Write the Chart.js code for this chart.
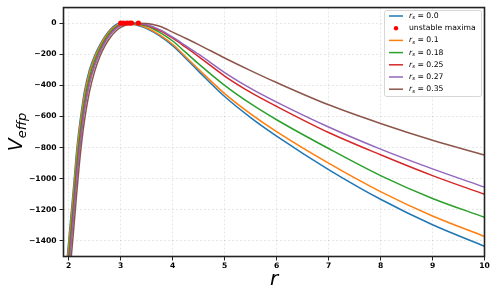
<!DOCTYPE html>
<html>
<head>
<meta charset="utf-8">
<script src="https://cdn.jsdelivr.net/npm/chart.js@4.4.1/dist/chart.umd.min.js"></script>
<style>
  html, body { margin: 0; padding: 0; background: #ffffff; }
  #wrap { width: 496px; height: 293px; }
</style>
</head>
<body>
<div id="wrap"><canvas id="chartCanvas" width="496" height="293"></canvas></div>
<script>
// r values shared by every curve
const rGrid = [1.95, 2.0, 2.05, 2.1, 2.15, 2.2, 2.25, 2.3, 2.4, 2.5,
               2.6, 2.7, 2.8, 2.9, 3.0, 3.1, 3.2, 3.35, 3.5, 3.75,
               4.0, 4.25, 4.5, 5.0, 5.5, 6, 7, 8, 9, 10];

// V_effp, one list per r_s
const vRs000 = [-1590, -1400, -1215, -1030, -830, -680, -555, -445, -300, -208,
                -140, -84, -41, -12, 0, -1.5, -6, -17, -35, -82,
                -145, -226, -310, -472, -607, -726, -941, -1132, -1296, -1434];
const vRs010 = [-1627, -1436, -1249, -1064, -864, -709, -580, -468, -317, -220,
                -149, -91, -47, -19, -3, -0.4, -3.5, -13, -30, -76,
                -136, -216, -297, -453, -583, -697, -900, -1083, -1240, -1371];
const vRs018 = [-1689, -1496, -1306, -1120, -920, -758, -622, -506, -345, -241,
                -164, -103, -57, -28, -9, -0.3, -1, -7, -19, -60,
                -115, -188, -262, -400, -518, -621, -806, -980, -1127, -1248];
const vRs025 = [-1764, -1568, -1375, -1187, -987, -817, -673, -551, -378, -265,
                -182, -118, -69, -35, -13, -2, -0.1, -4, -14, -48,
                -97, -155, -215, -340, -445, -535, -703, -846, -980, -1100];
const vRs027 = [-1792, -1595, -1400, -1212, -1012, -839, -692, -569, -391, -274,
                -189, -124, -74, -39, -16, -4, -0.1, -2.5, -11, -42,
                -90, -145, -200, -318, -420, -508, -668, -810, -937, -1054];
const vRs035 = [-1900, -1700, -1500, -1310, -1110, -925, -765, -635, -440, -310,
                -215, -145, -92, -54, -28, -12, -2.5, -0.05, -3, -20,
                -58, -97, -138, -224, -305, -382, -525, -645, -753, -848];

const rsLabels = ['0.0', '0.1', '0.18', '0.25', '0.27', '0.35'];
const rsColors = ['#1f77b4', '#ff7f0e', '#2ca02c', '#d62728', '#9467bd', '#8c564b'];

// unstable maxima (red dots)
const maximaR = [3.0, 3.05, 3.12, 3.17, 3.21, 3.34];
const maximaV = [0, 0, 0, 0, 0, 0];

const xTicks = [2, 3, 4, 5, 6, 7, 8, 9, 10];
const yTicks = [0, -200, -400, -600, -800, -1000, -1200, -1400];

const FONT = "'DejaVu Sans', sans-serif";

function toPoints(xs, ys) {
  return xs.map((x, i) => ({ x: x, y: ys[i] }));
}

function lineSet(idx, values) {
  return {
    label: 'r_s = ' + rsLabels[idx],
    rsText: rsLabels[idx],
    data: toPoints(rGrid, values),
    borderColor: rsColors[idx],
    backgroundColor: rsColors[idx],
    borderWidth: 1.5,
    pointRadius: 0,
    fill: false,
    cubicInterpolationMode: 'monotone',
    order: 6 - idx
  };
}

const datasets = [
  lineSet(0, vRs000),
  {
    label: 'unstable maxima',
    isMaxima: true,
    type: 'scatter',
    data: toPoints(maximaR, maximaV),
    showLine: false,
    pointRadius: 2.6,
    pointBackgroundColor: '#ff0000',
    pointBorderWidth: 0,
    backgroundColor: '#ff0000',
    borderColor: '#ff0000',
    order: 0
  },
  lineSet(1, vRs010),
  lineSet(2, vRs018),
  lineSet(3, vRs025),
  lineSet(4, vRs027),
  lineSet(5, vRs035)
];

// frame, axis titles and a matplotlib-like legend
const decorPlugin = {
  id: 'decor',
  afterDraw(chart) {
    const ctx = chart.ctx;
    const a = chart.chartArea;
    ctx.save();

    // axes frame
    ctx.strokeStyle = '#222222';
    ctx.lineWidth = 1.6;
    ctx.strokeRect(a.left, a.top, a.right - a.left, a.bottom - a.top);

    // x title
    ctx.fillStyle = '#000000';
    ctx.font = 'italic 20px ' + FONT;
    ctx.textAlign = 'center';
    ctx.textBaseline = 'alphabetic';
    ctx.fillText('r', (a.left + a.right) / 2, 285);

    // y title V_effp
    ctx.save();
    ctx.translate(22, (a.top + a.bottom) / 2);
    ctx.rotate(-Math.PI / 2);
    ctx.textAlign = 'left';
    ctx.font = 'italic 19px ' + FONT;
    const wV = ctx.measureText('V').width;
    ctx.font = 'italic 13px ' + FONT;
    const wSub = ctx.measureText('effp').width;
    const x0 = -(wV + wSub) / 2;
    ctx.font = 'italic 19px ' + FONT;
    ctx.fillText('V', x0, 0);
    ctx.font = 'italic 13px ' + FONT;
    ctx.fillText('effp', x0 + wV, 4);
    ctx.restore();

    // legend
    const bx = 384.5, by = 10.5, bw = 97, bh = 86;
    ctx.beginPath();
    ctx.roundRect(bx, by, bw, bh, 2);
    ctx.fillStyle = 'rgba(255,255,255,0.85)';
    ctx.fill();
    ctx.strokeStyle = '#cccccc';
    ctx.lineWidth = 0.8;
    ctx.stroke();

    chart.data.datasets.forEach((ds, i) => {
      const y = by + 5.5 + i * 12.2;
      if (ds.isMaxima) {
        ctx.beginPath();
        ctx.arc(396, y, 2.2, 0, Math.PI * 2);
        ctx.fillStyle = '#ff0000';
        ctx.fill();
        ctx.fillStyle = '#000000';
        ctx.font = '7.7px ' + FONT;
        ctx.textBaseline = 'middle';
        ctx.textAlign = 'left';
        ctx.fillText('unstable maxima', 409, y);
        return;
      }
      ctx.beginPath();
      ctx.moveTo(389, y);
      ctx.lineTo(403, y);
      ctx.strokeStyle = ds.borderColor;
      ctx.lineWidth = 1.5;
      ctx.stroke();
      ctx.fillStyle = '#000000';
      ctx.textBaseline = 'middle';
      ctx.textAlign = 'left';
      ctx.font = 'italic 7.7px ' + FONT;
      let x = 409;
      ctx.fillText('r', x, y);
      x += ctx.measureText('r').width;
      ctx.font = 'italic 5.4px ' + FONT;
      ctx.fillText('s', x, y + 2);
      x += ctx.measureText('s').width;
      ctx.font = '7.7px ' + FONT;
      ctx.fillText(' = ' + ds.rsText, x, y);
    });

    ctx.restore();
  }
};

const tickFont = { family: FONT, size: 7.6, weight: 'bold' };

new Chart(document.getElementById('chartCanvas').getContext('2d'), {
  type: 'line',
  data: { datasets: datasets },
  options: {
    responsive: false,
    animation: false,
    devicePixelRatio: 1,
    layout: { padding: { left: 0, right: 11.5, top: 5, bottom: 0 } },
    plugins: {
      legend: { display: false },
      tooltip: { enabled: false }
    },
    scales: {
      x: {
        type: 'linear',
        min: 1.9,
        max: 10,
        afterBuildTicks: s => { s.ticks = xTicks.map(v => ({ value: v })); },
        afterFit: s => { s.height = 36.5; },
        ticks: {
          font: tickFont,
          color: '#000000',
          padding: 1,
          maxRotation: 0,
          autoSkip: false,
          callback: v => String(v)
        },
        grid: {
          color: 'rgba(0,0,0,0.12)',
          lineWidth: 0.8,
          tickColor: '#222222',
          tickLength: 4,
          tickWidth: 1
        },
        border: { display: false, dash: [2, 2] }
      },
      y: {
        min: -1500,
        max: 100,
        afterBuildTicks: s => { s.ticks = yTicks.map(v => ({ value: v })); },
        afterFit: s => { s.width = 63.5; },
        ticks: {
          font: tickFont,
          color: '#000000',
          padding: 3,
          autoSkip: false,
          callback: v => (v < 0 ? '\u2212' + Math.abs(v) : String(v))
        },
        grid: {
          color: 'rgba(0,0,0,0.12)',
          lineWidth: 0.8,
          tickColor: '#222222',
          tickLength: 4,
          tickWidth: 1
        },
        border: { display: false, dash: [2, 2] }
      }
    }
  },
  plugins: [decorPlugin]
});
</script>
</body>
</html>
